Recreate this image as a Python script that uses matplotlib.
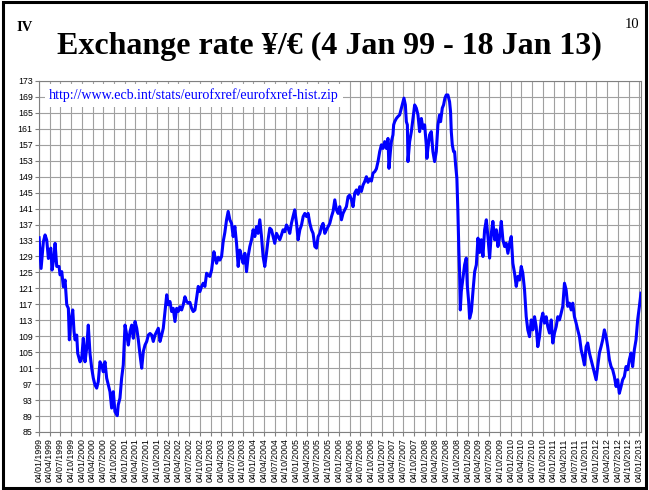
import matplotlib
matplotlib.use("Agg")
import matplotlib.pyplot as plt
import pandas as pd
from matplotlib.lines import Line2D
from matplotlib.patches import Rectangle

# ECB reference rate, yen per euro (decimal years)
t_year = [
    1999.010, 1999.057, 1999.110, 1999.150, 1999.189, 1999.227, 1999.283, 1999.313, 1999.359,
    1999.383, 1999.422, 1999.476, 1999.499, 1999.539, 1999.576, 1999.616, 1999.655, 1999.693,
    1999.716, 1999.748, 1999.795, 1999.825, 1999.849, 1999.888, 1999.911, 1999.965,
    2000.005, 2000.042, 2000.082, 2000.121, 2000.158, 2000.198, 2000.238, 2000.275, 2000.314,
    2000.354, 2000.391, 2000.431, 2000.471, 2000.508, 2000.547, 2000.587, 2000.664, 2000.703,
    2000.741, 2000.780, 2000.834, 2000.857, 2000.897, 2000.936, 2000.974,
    2001.013, 2001.053, 2001.090, 2001.130, 2001.169, 2001.207, 2001.246, 2001.286, 2001.323,
    2001.363, 2001.402, 2001.440, 2001.479, 2001.519, 2001.556, 2001.596, 2001.635, 2001.672,
    2001.712, 2001.752, 2001.789, 2001.829, 2001.868, 2001.905, 2001.945, 2001.985,
    2002.022, 2002.062, 2002.101, 2002.138, 2002.178, 2002.218, 2002.255, 2002.294, 2002.334,
    2002.371, 2002.411, 2002.450, 2002.488, 2002.527, 2002.567, 2002.604, 2002.644, 2002.683,
    2002.721, 2002.760, 2002.800, 2002.837, 2002.877, 2002.916, 2002.954, 2002.993,
    2003.033, 2003.087, 2003.110, 2003.149, 2003.190, 2003.226, 2003.266, 2003.303, 2003.342,
    2003.382, 2003.420, 2003.459, 2003.499, 2003.536, 2003.576, 2003.615, 2003.653, 2003.692,
    2003.732, 2003.769, 2003.809, 2003.848, 2003.885, 2003.925, 2003.965,
    2004.002, 2004.042, 2004.081, 2004.118, 2004.158, 2004.198, 2004.235, 2004.274, 2004.314,
    2004.351, 2004.391, 2004.430, 2004.468, 2004.507, 2004.547, 2004.584, 2004.624, 2004.663,
    2004.701, 2004.740, 2004.780, 2004.817, 2004.857, 2004.896, 2004.933, 2004.973,
    2005.013, 2005.050, 2005.090, 2005.129, 2005.167, 2005.206, 2005.246, 2005.283, 2005.323,
    2005.362, 2005.399, 2005.439, 2005.479, 2005.516, 2005.556, 2005.595, 2005.632, 2005.672,
    2005.711, 2005.749, 2005.788, 2005.828, 2005.865, 2005.905, 2005.944, 2005.982,
    2006.021, 2006.061, 2006.098, 2006.138, 2006.177, 2006.215, 2006.254, 2006.294, 2006.331,
    2006.371, 2006.410, 2006.448, 2006.487, 2006.525, 2006.564, 2006.604, 2006.643, 2006.680,
    2006.720, 2006.760, 2006.797, 2006.840, 2006.876, 2006.914, 2006.953, 2006.993,
    2007.030, 2007.070, 2007.109, 2007.147, 2007.170, 2007.203, 2007.226, 2007.263, 2007.279,
    2007.303, 2007.342, 2007.380, 2007.419, 2007.459, 2007.496, 2007.519, 2007.552, 2007.575,
    2007.599, 2007.613, 2007.652, 2007.692, 2007.729, 2007.769, 2007.808, 2007.846, 2007.885,
    2007.901, 2007.925, 2007.962,
    2008.002, 2008.041, 2008.055, 2008.079, 2008.118, 2008.158, 2008.195, 2008.235, 2008.274,
    2008.312, 2008.351, 2008.374, 2008.414, 2008.444, 2008.475, 2008.507, 2008.545, 2008.584,
    2008.607, 2008.624, 2008.647, 2008.677, 2008.701, 2008.724, 2008.754, 2008.778, 2008.801,
    2008.817, 2008.834, 2008.857, 2008.894, 2008.934, 2008.973, 2008.996,
    2009.027, 2009.050, 2009.090, 2009.127, 2009.167, 2009.206, 2009.244, 2009.283, 2009.322,
    2009.360, 2009.399, 2009.439, 2009.476, 2009.516, 2009.555, 2009.592, 2009.632, 2009.672,
    2009.709, 2009.749, 2009.788, 2009.825, 2009.865, 2009.904, 2009.942, 2009.981,
    2010.021, 2010.058, 2010.098, 2010.137, 2010.175, 2010.214, 2010.254, 2010.291, 2010.331,
    2010.370, 2010.407, 2010.447, 2010.487, 2010.524, 2010.564, 2010.603, 2010.640, 2010.680,
    2010.720, 2010.757, 2010.797, 2010.836, 2010.873, 2010.913, 2010.953, 2010.990,
    2011.030, 2011.069, 2011.107, 2011.146, 2011.186, 2011.223, 2011.263, 2011.302, 2011.339,
    2011.379, 2011.419, 2011.456, 2011.495, 2011.535, 2011.572, 2011.612, 2011.652, 2011.689,
    2011.728, 2011.768, 2011.805, 2011.845, 2011.884, 2011.922, 2011.961,
    2012.001, 2012.038, 2012.078, 2012.117, 2012.155, 2012.194, 2012.234, 2012.271, 2012.311,
    2012.350, 2012.388, 2012.427, 2012.467, 2012.504, 2012.543, 2012.583, 2012.620, 2012.660,
    2012.699, 2012.737, 2012.776, 2012.816, 2012.853, 2012.893, 2012.932, 2012.970,
    2013.009, 2013.045,
]
eur_jpy = [
    133.7, 126.0, 132.7, 134.4, 133.1, 128.5, 131.1, 125.6, 129.0,
    132.3, 126.5, 126.5, 124.4, 125.2, 121.4, 123.1, 116.9, 116.0,
    108.1, 112.7, 115.6, 110.2, 108.1, 109.3, 104.7, 102.6,
    103.5, 108.5, 102.6, 106.0, 111.8, 104.7, 101.0, 98.5, 96.8,
    96.0, 97.6, 102.6, 101.8, 100.1, 102.6, 98.5, 95.1, 91.0,
    95.1, 90.1, 89.1, 91.8, 93.5, 98.5, 101.8,
    111.8, 109.3, 106.8, 110.2, 111.8, 108.5, 112.7, 111.0, 108.1,
    104.3, 101.0, 105.2, 106.8, 107.7, 109.3, 109.7, 109.3, 107.7,
    109.3, 110.2, 111.0, 107.7, 109.3, 111.0, 115.2, 119.4,
    116.9, 117.7, 115.2, 116.0, 112.7, 116.0, 115.2, 116.4, 115.6,
    116.9, 118.9, 117.7, 117.3, 117.5, 116.0, 115.2, 115.6, 118.5,
    121.5, 120.2, 121.5, 122.3, 121.5, 124.8, 124.3, 124.0,
    125.6, 130.2, 129.0, 127.3, 128.8, 128.1, 129.0, 132.7, 135.0,
    138.2, 140.3, 138.2, 137.3, 134.0, 136.5, 132.3, 126.5, 130.6,
    129.0, 127.3, 129.8, 125.2, 129.0, 131.5, 133.2,
    135.7, 134.0, 136.5, 134.8, 138.2, 134.0, 129.0, 126.5, 129.8,
    133.2, 136.1, 135.7, 134.0, 132.3, 134.8, 134.0, 133.2, 134.4,
    135.7, 135.2, 136.9, 136.1, 134.8, 137.3, 139.0, 140.7,
    137.3, 133.2, 135.7, 136.9, 139.0, 139.8, 139.0, 139.8, 137.3,
    135.7, 134.8, 131.5, 131.1, 134.0, 134.8, 136.5, 137.3, 134.8,
    135.7, 136.5, 137.3, 139.0, 140.3, 143.2, 140.7, 139.8,
    141.5, 138.2, 139.8, 140.7, 141.5, 144.0, 144.4, 143.2, 141.5,
    144.9, 145.7, 144.6, 146.5, 145.3, 146.9, 147.8, 149.0, 147.6,
    148.4, 147.9, 149.9, 150.3, 151.0, 152.8, 155.3, 157.0,
    156.1, 157.8, 156.1, 158.6, 151.1, 155.3, 157.8, 159.5, 162.0,
    162.8, 163.6, 164.1, 164.5, 166.2, 167.8, 168.7, 167.0, 162.8,
    162.0, 152.8, 157.8, 160.3, 163.6, 167.0, 166.2, 164.5, 160.3,
    162.8, 163.6, 161.1,
    162.0, 157.0, 153.6, 156.1, 159.5, 160.3, 155.3, 152.8, 155.3,
    162.0, 164.5, 162.8, 166.2, 167.0, 168.7, 169.5, 169.5, 167.8,
    165.3, 160.3, 157.0, 155.3, 155.3, 152.0, 148.6, 140.3, 130.2,
    125.2, 115.6, 120.2, 123.5, 126.9, 128.6, 121.9,
    117.7, 113.5, 115.2, 120.2, 125.2, 126.9, 133.6, 130.0, 133.2,
    129.0, 135.7, 138.2, 134.0, 128.6, 134.8, 137.8, 133.2, 135.7,
    131.5, 134.0, 137.8, 133.2, 131.5, 132.3, 129.8, 132.3,
    134.0, 127.3, 124.8, 121.5, 124.0, 123.1, 126.5, 124.8, 120.6,
    113.9, 110.6, 108.9, 113.1, 110.6, 113.9, 111.4, 106.4, 108.9,
    113.1, 114.8, 112.3, 113.9, 111.4, 109.8, 113.1, 107.3,
    109.8, 111.4, 113.9, 113.1, 114.8, 116.5, 122.3, 120.6, 116.5,
    117.3, 115.6, 117.3, 113.9, 112.3, 110.6, 108.9, 105.6, 103.9,
    101.8, 106.4, 107.3, 104.8, 103.1, 101.4, 99.7,
    98.1, 101.4, 104.8, 106.4, 108.1, 110.6, 108.9, 106.4, 103.1,
    101.4, 100.6, 98.9, 96.4, 98.1, 94.7, 96.4, 98.1, 98.9,
    101.4, 100.6, 103.1, 104.8, 101.4, 105.6, 108.1, 113.1,
    116.5, 119.8,
]
assert len(t_year) == len(eur_jpy)

y_ticks = list(range(85, 174, 4))
tick_dates = pd.date_range("1999-01-01", "2013-01-01", freq="QS") + pd.Timedelta(days=3)
tick_labels = [d.strftime("%d/%m/%Y") for d in tick_dates]
title = "Exchange rate ¥/€ (4 Jan 99 - 18 Jan 13)"
source_url = "http://www.ecb.int/stats/eurofxref/eurofxref-hist.zip"


def year_to_date(t):
    y = int(t)
    return pd.Timestamp(year=y, month=1, day=1) + pd.Timedelta(days=(t - y) * 365.25)


dates = [year_to_date(t) for t in t_year]

fig = plt.figure(figsize=(6.49, 4.90), dpi=100)
ax = fig.add_axes([0.0601, 0.1184, 0.9276, 0.7163])

ax.plot(dates, eur_jpy, color="#0000ff", lw=2.2, zorder=3)

ax.set_xlim(pd.Timestamp("1999-01-04"), pd.Timestamp("2013-01-18"))
ax.set_ylim(85, 173)
ax.set_xticks(tick_dates)
ax.set_xticklabels(tick_labels, rotation=90, fontsize=6.3, family="Liberation Sans")
ax.set_yticks(y_ticks)
ax.set_yticklabels([str(v) for v in y_ticks], fontsize=6.3, family="Liberation Sans")
ax.tick_params(length=3, width=0.8, color="#808080", pad=1.5)
ax.grid(True, color="#a0a0a0", lw=0.8, zorder=0)
ax.set_axisbelow(True)
for sp in ax.spines.values():
    sp.set_color("#808080")
    sp.set_linewidth(0.8)

# source link in a white box over the grid
url = fig.text(0.0755, 0.805, source_url, color="#0000ff", fontsize=10.1,
               family="Liberation Serif", va="center", ha="left",
               bbox=dict(facecolor="white", edgecolor="none", pad=3))
fig.canvas.draw()
bb = url.get_window_extent().transformed(fig.transFigure.inverted())
fig.add_artist(Line2D([bb.x0, bb.x1], [bb.y0 + 0.002, bb.y0 + 0.002],
                      transform=fig.transFigure, color="#0000ff", lw=0.8))

fig.text(0.508, 0.905, title, ha="center", va="center", fontsize=23,
         fontweight="bold", family="Liberation Serif")
fig.text(0.026, 0.944, "IV", ha="left", va="center", fontsize=10.5,
         fontweight="bold", family="Liberation Serif")
fig.text(0.962, 0.951, "10", ha="left", va="center", fontsize=10.5,
         family="Liberation Serif")

fig.add_artist(Rectangle((0.005, 0.005), 0.99, 0.99, transform=fig.transFigure,
                         fill=False, edgecolor="black", lw=2.2))

fig.savefig("out.png", dpi=100)
